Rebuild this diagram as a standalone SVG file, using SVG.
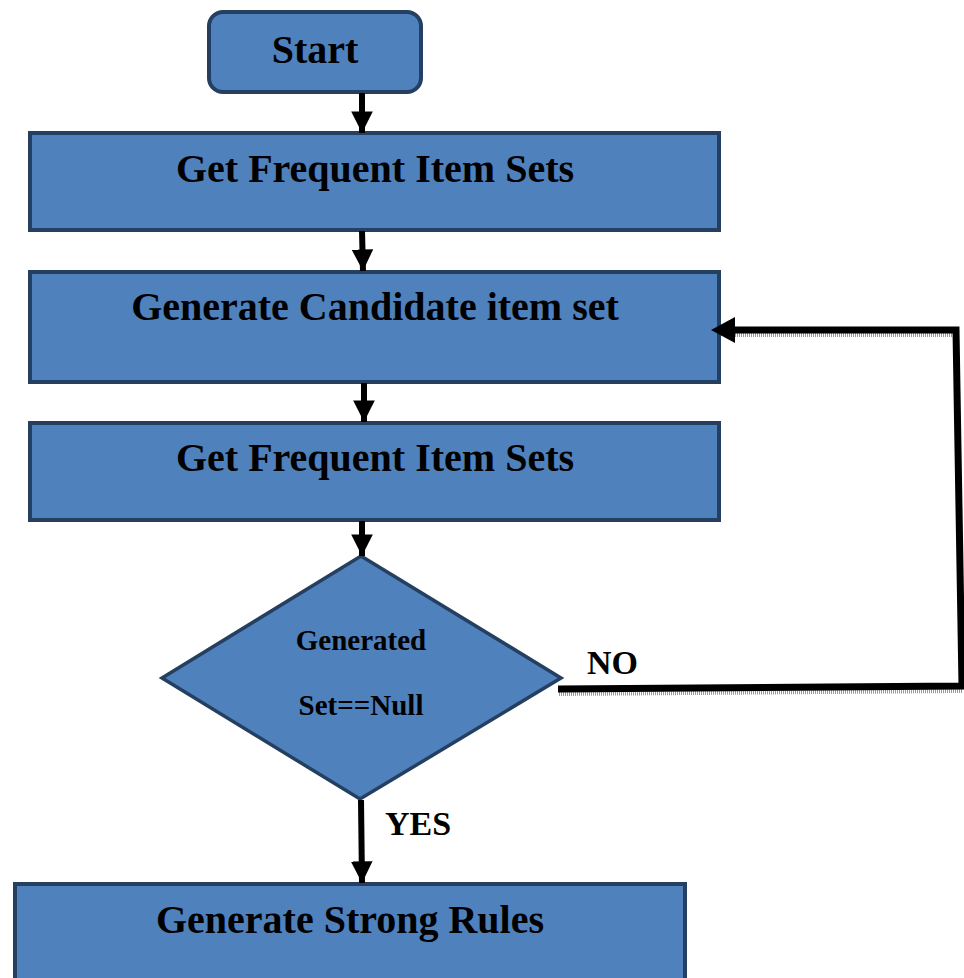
<svg xmlns="http://www.w3.org/2000/svg" width="964" height="978" viewBox="0 0 964 978">
<defs>
<style>
.box{fill:#4F81BD;stroke:#243F60;stroke-width:4}
.t{font-family:"Liberation Serif","Times New Roman",serif;font-weight:bold;fill:#000;text-anchor:middle}
.lbl{font-family:"Liberation Serif","Times New Roman",serif;font-weight:bold;fill:#000}
.ln{fill:none;stroke:#000;stroke-width:6}
.fb{fill:none;stroke:#000;stroke-width:7}
.sh{fill:none;stroke:#9a9a9a;stroke-width:4;stroke-dasharray:1 1}
</style>
<marker id="ah" viewBox="0 0 10 10" refX="10" refY="5" markerWidth="3.6" markerHeight="3.6" markerUnits="strokeWidth" orient="auto">
<path d="M0,0 L10,5 L0,10 z" fill="#000"/>
</marker>
</defs>
<rect width="964" height="978" fill="#fff"/>

<g id="start">
<rect class="box" x="209" y="12" width="212" height="80" rx="14"/>
<text class="t" x="315" y="63" font-size="40">Start</text>
</g>
<g id="freq1">
<rect class="box" x="30" y="133" width="689" height="97"/>
<text class="t" x="375" y="182" font-size="40">Get Frequent Item Sets</text>
</g>
<g id="cand">
<rect class="box" x="30" y="272" width="689" height="110"/>
<text class="t" x="375" y="320" font-size="40">Generate Candidate item set</text>
</g>
<g id="freq2">
<rect class="box" x="30" y="423" width="689" height="97"/>
<text class="t" x="375" y="471" font-size="40">Get Frequent Item Sets</text>
</g>
<g id="decision">
<polygon class="box" points="361,556 561,678 360,799 162,678" style="stroke-width:3.5"/>
<text class="t" x="361" y="650" font-size="29">Generated</text>
<text class="t" x="361" y="715" font-size="29">Set==Null</text>
</g>
<g id="rules">
<rect class="box" x="15" y="884" width="670" height="110"/>
<text class="t" x="350" y="933" font-size="40">Generate Strong Rules</text>
</g>

<g id="connectors">
<line class="ln" x1="362" y1="93" x2="362" y2="133" marker-end="url(#ah)"/>
<line class="ln" x1="362" y1="231" x2="363" y2="271" marker-end="url(#ah)"/>
<line class="ln" x1="364" y1="383" x2="364" y2="422" marker-end="url(#ah)"/>
<line class="ln" x1="362" y1="521" x2="362" y2="556" marker-end="url(#ah)"/>
<line class="fb" x1="361" y1="800" x2="362" y2="883" marker-end="url(#ah)" style="stroke-width:6"/>
<path class="sh" d="M559,694 L962,691"/>
<path class="sh" d="M735,335 L953,335"/>
<path class="fb" d="M558,689 L962,686 L956,330 L733,330"/>
<path d="M711,330 L735,317 L735,343 z" fill="#000"/>
<text class="lbl" x="587" y="674" font-size="34">NO</text>
<text class="lbl" x="385" y="835" font-size="34">YES</text>
</g>
</svg>
